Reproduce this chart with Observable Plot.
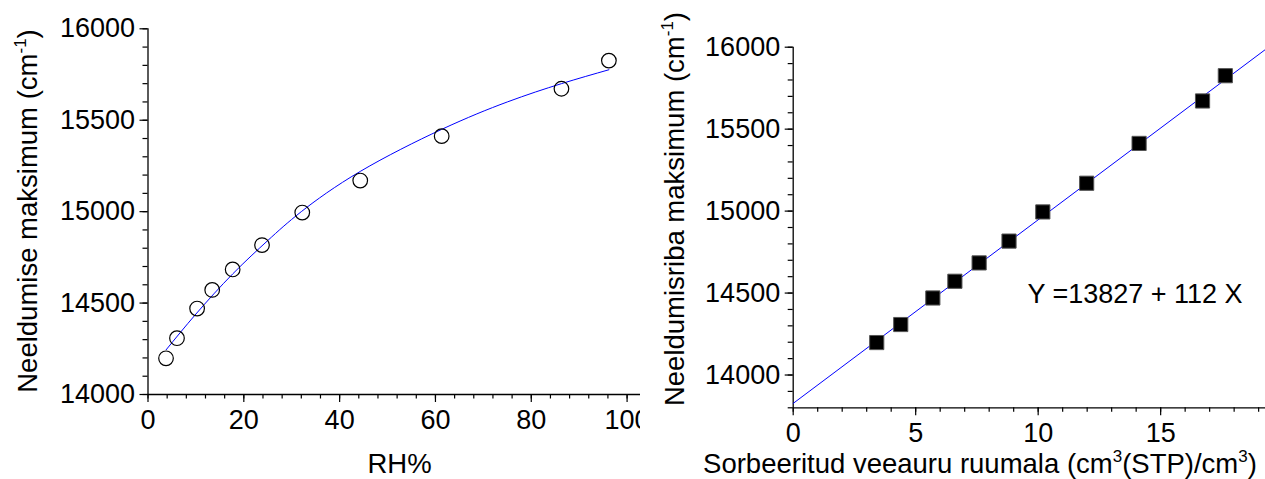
<!DOCTYPE html>
<html>
<head>
<meta charset="utf-8">
<script src="https://cdn.jsdelivr.net/npm/d3@7"></script>
<script src="https://cdn.jsdelivr.net/npm/@observablehq/plot@0.6"></script>
<style>
  body { margin: 0; background: #fff; }
  #wrap { display: flex; width: 1265px; height: 479px; overflow: hidden; }
  #wrap svg { display: block; flex: none; overflow: hidden; }
</style>
</head>
<body>
<div id="wrap"></div>
<script>
// Absorption band maximum versus relative humidity and sorbed water volume
const relHumidity    = [3.76, 6.05, 10.25, 13.4, 17.67, 23.8, 32.2, 44.3, 61.3, 86.3, 96.2];
const peakWavenumber = [14198, 14308, 14470, 14572, 14684, 14817, 14995, 15170, 15413, 15672, 15826];
const sorbedVolume   = [3.41, 4.39, 5.70, 6.60, 7.59, 8.81, 10.19, 11.98, 14.12, 16.71, 17.64];

// Fitted saturation curve (left panel)
const fitRH   = [3.8, 10, 17.7, 25, 32, 44.3, 61.3, 75, 86.3, 96.2];
const fitPeak = [14245, 14440, 14660, 14842, 15000, 15220, 15450, 15600, 15700, 15776];

// Linear fit (right panel)
const intercept = 13827;
const slope = 112;

// Axis ticks
const peakTicks = [14000, 14500, 15000, 15500, 16000];
const rhTicks = [0, 20, 40, 60, 80, 100];
const volTicks = [0, 5, 10, 15];

const FONT = "'Liberation Sans', Arial, Helvetica, sans-serif";
const FS = 27;
const TITLE_FS = 27.5;

const samples = relHumidity.map((rh, i) => ({rh, vol: sorbedVolume[i], peak: peakWavenumber[i]}));
const fitCurve = fitRH.map((rh, i) => ({rh, peak: fitPeak[i]}));

const baseStyle = {fontFamily: FONT, fontSize: FS + "px", color: "black", background: "white", overflow: "hidden"};
const fmt = d => String(d);

// Axis title with superscripts, built from [text, isSuperscript] parts
function axisTitle(svg, {x, y, rotate = 0, parts}) {
  const t = d3.select(svg).append("text")
    .attr("transform", `translate(${x},${y}) rotate(${rotate})`)
    .attr("text-anchor", "middle")
    .attr("font-family", FONT)
    .attr("font-size", TITLE_FS)
    .attr("fill", "black");
  let raised = false;
  for (const [str, sup] of parts) {
    const s = t.append("tspan").text(str);
    if (sup && !raised) { s.attr("font-size", 17).attr("dy", -11); raised = true; }
    else if (!sup && raised) { s.attr("dy", 11); raised = false; }
  }
}

// Left panel: peak vs RH%
const left = Plot.plot({
  width: 640, height: 479,
  marginLeft: 147.5, marginRight: 0, marginTop: 28.3, marginBottom: 85,
  x: {domain: [0, 102.8]},
  y: {domain: [14000, 16000]},
  style: baseStyle,
  marks: [
    Plot.axisX(d3.range(0, 101, 4), {tickSize: 4.5, text: null, label: null, strokeWidth: 1.2}),
    Plot.axisX(rhTicks, {tickSize: 8, tickPadding: 7, tickFormat: fmt, fontSize: FS, label: null, strokeWidth: 1.2}),
    Plot.axisY(d3.range(14000, 16001, 100), {tickSize: 5, text: null, label: null, strokeWidth: 1.2}),
    Plot.axisY(peakTicks, {tickSize: 8, tickPadding: 5, tickFormat: fmt, fontSize: FS, label: null, strokeWidth: 1.2}),
    Plot.ruleX([0], {stroke: "black", strokeWidth: 1.3}),
    Plot.ruleY([14000], {stroke: "black", strokeWidth: 1.3}),
    Plot.line(fitCurve, {x: "rh", y: "peak", curve: "natural", stroke: "#0000ff", strokeWidth: 1}),
    Plot.dot(samples, {x: "rh", y: "peak", r: 7.3, stroke: "black", strokeWidth: 1.2, fill: "none"})
  ]
});
axisTitle(left, {x: 37, y: 211, rotate: -90, parts: [["Neeldumise maksimum (cm", false], ["-1", true], [")", false]]});
axisTitle(left, {x: 399.5, y: 473, parts: [["RH%", false]]});

// Right panel: peak vs sorbed water volume with linear fit
const volMax = 19.28;
const fitLine = [0, volMax].map(v => ({vol: v, peak: intercept + slope * v}));
const right = Plot.plot({
  width: 625, height: 479,
  marginLeft: 152.7, marginRight: 0, marginTop: 46.7, marginBottom: 71.7,
  x: {domain: [0, volMax]},
  y: {domain: [13800, 16000]},
  style: baseStyle,
  marks: [
    Plot.axisX(d3.range(0, 20, 1), {tickSize: 4.5, text: null, label: null, strokeWidth: 1.2}),
    Plot.axisX(volTicks, {tickSize: 8, tickPadding: 7.5, tickFormat: fmt, fontSize: FS, label: null, strokeWidth: 1.2}),
    Plot.axisY(d3.range(13800, 16001, 100), {tickSize: 5, text: null, label: null, strokeWidth: 1.2}),
    Plot.axisY(peakTicks, {tickSize: 8, tickPadding: 5, tickFormat: fmt, fontSize: FS, label: null, strokeWidth: 1.2}),
    Plot.ruleX([0], {stroke: "black", strokeWidth: 1.3}),
    Plot.ruleY([13800], {stroke: "black", strokeWidth: 1.3}),
    Plot.line(fitLine, {x: "vol", y: "peak", stroke: "#0000ff", strokeWidth: 1}),
    Plot.dot(samples, {x: "vol", y: "peak", symbol: "square", r: 8, fill: "black", stroke: "#555", strokeWidth: 1}),
    Plot.text([{vol: 9.56, peak: 14494, label: `Y =${intercept} + ${slope} X`}],
      {x: "vol", y: "peak", text: "label", textAnchor: "start", lineAnchor: "middle", fontSize: FS, fill: "black"})
  ]
});
axisTitle(right, {x: 44, y: 209, rotate: -90, parts: [["Neeldumisriba maksimum (cm", false], ["-1", true], [")", false]]});
axisTitle(right, {x: 340, y: 473, parts: [["Sorbeeritud veeauru ruumala (cm", false], ["3", true], ["(STP)/cm", false], ["3", true], [")", false]]});

document.getElementById("wrap").append(left, right);
</script>
</body>
</html>
